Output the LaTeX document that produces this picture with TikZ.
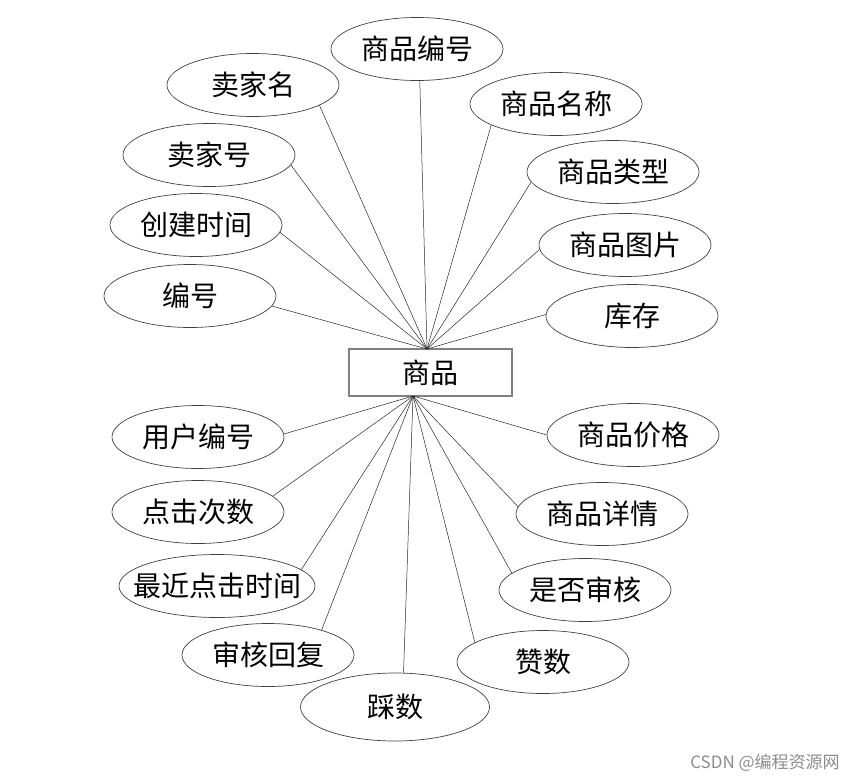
\documentclass[tikz,border=0pt]{standalone}
\usepackage{fontspec}
\setmainfont{Noto Sans CJK SC}
\usetikzlibrary{shapes.geometric}

\begin{document}
\begin{tikzpicture}[x=1pt,y=-1pt,
	attr/.style={ellipse,draw=black!75,line width=0.7pt,minimum width=172pt,minimum height=63pt,inner sep=0pt,font=\fontsize{28}{28}\selectfont},
	ent/.style={rectangle,draw=black!50,line width=1.2pt,minimum width=163pt,minimum height=47pt,inner sep=0pt,font=\fontsize{28}{28}\selectfont},
	link/.style={black!85,line width=0.5pt}]
	\useasboundingbox (0,0) rectangle (865,782);
	\node[ent] (sp) at (430.5,372.5) {商品};
	\coordinate (top) at (427,349);
	\coordinate (bot) at (413,396);
	\node[attr] (spbh) at (417,49) {商品编号};
	\node[attr] (mjm) at (253,85) {卖家名};
	\node[attr] (spmc) at (556,104) {商品名称};
	\node[attr] (mjh) at (209,155) {卖家号};
	\node[attr] (splx) at (613,172) {商品类型};
	\node[attr] (cjsj) at (196,225) {创建时间};
	\node[attr] (sptp) at (625,245) {商品图片};
	\node[attr] (bh) at (190,296) {编号};
	\node[attr] (kc) at (632,316) {库存};
	\node[attr] (yhbh) at (198,437) {用户编号};
	\node[attr] (spjg) at (633,435) {商品价格};
	\node[attr] (djcs) at (198,512) {点击次数};
	\node[attr] (spxq) at (602,514) {商品详情};
	\node[attr,inner xsep=-15pt,minimum width=196pt] (zjdjsj) at (217,586) {最近点击时间};
	\node[attr] (sfsh) at (585,590) {是否审核};
	\node[attr] (shhf) at (268,655) {审核回复};
	\node[attr] (zs) at (543,662) {赞数};
	\node[attr,minimum width=189pt,minimum height=68pt] (cs) at (395,707) {踩数};
	\draw[link] (spbh.-85) -- (top);
	\draw[link] (mjm.-17) -- (top);
	\draw[link] (spmc.-162) -- (top);
	\draw[link] (mjh.-7) -- (top);
	\draw[link] (splx.-173) -- (top);
	\draw[link] (cjsj.-5) -- (top);
	\draw[link] (sptp.-177) -- (top);
	\draw[link] (bh.-7) -- (top);
	\draw[link] (kc.179) -- (top);
	\draw[link] (yhbh.2) -- (bot);
	\draw[link] (spjg.180) -- (bot);
	\draw[link] (djcs.12) -- (bot);
	\draw[link] (spxq.175) -- (bot);
	\draw[link] (zjdjsj.11) -- (bot);
	\draw[link] (sfsh.167) -- (bot);
	\draw[link] (shhf.25) -- (bot);
	\draw[link] (zs.164) -- (bot);
	\draw[link] (cs.76) -- (bot);
	\node[font=\fontsize{17}{17}\selectfont,text=black!45] (wm) at (765,763) {CSDN @编程资源网};
\end{tikzpicture}
\end{document}
